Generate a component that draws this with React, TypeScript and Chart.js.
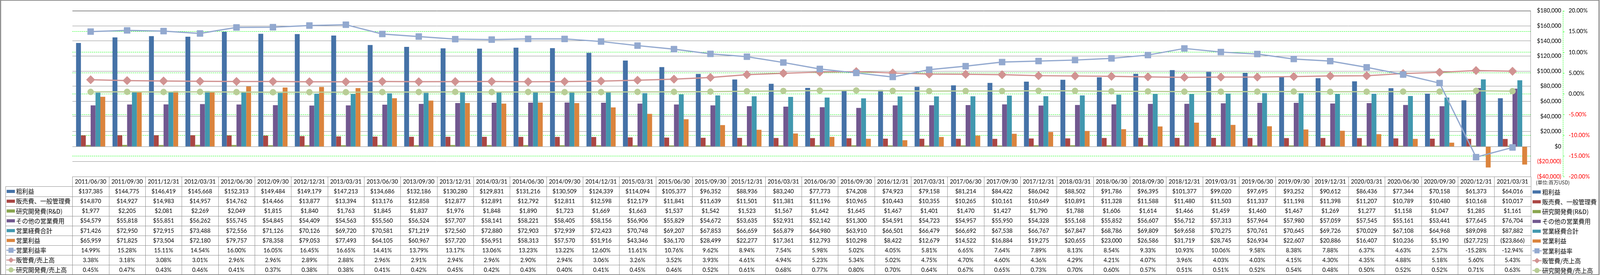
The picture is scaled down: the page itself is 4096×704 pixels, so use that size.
import React, { useEffect, useRef } from 'react';
import { Chart, registerables } from 'chart.js';

Chart.register(...registerables);

// ---------------- data ----------------
const categories = [
  '2011/06/30', '2011/09/30', '2011/12/31', '2012/03/31', '2012/06/30', '2012/09/30', '2012/12/31', '2013/03/31',
  '2013/06/30', '2013/09/30', '2013/12/31', '2014/03/31', '2014/06/30', '2014/09/30', '2014/12/31', '2015/03/31',
  '2015/06/30', '2015/09/30', '2015/12/31', '2016/03/31', '2016/06/30', '2016/09/30', '2016/12/31', '2017/03/31',
  '2017/06/30', '2017/09/30', '2017/12/31', '2018/03/31', '2018/06/30', '2018/09/30', '2018/12/31', '2019/03/31',
  '2019/06/30', '2019/09/30', '2019/12/31', '2020/03/31', '2020/06/30', '2020/09/30', '2020/12/31', '2021/03/31',
];

const grossProfit = [
  137385, 144775, 146419, 145668, 152313, 149484, 149179, 147213, 134686, 132186, 130280, 129831, 131216, 130509,
  124339, 114094, 105377, 96352, 88936, 83240, 77773, 74208, 74923, 79158, 81214, 84422, 86042, 88502, 91786, 96395,
  101377, 99020, 97695, 93252, 90612, 86436, 77344, 70158, 61373, 64016,
];
const sgaExpense = [
  14870, 14927, 14983, 14957, 14762, 14466, 13877, 13394, 13176, 12858, 12877, 12891, 12792, 12811, 12598, 12179,
  11841, 11639, 11501, 11381, 11196, 10965, 10443, 10355, 10265, 10161, 10649, 10891, 11328, 11588, 11480, 11503,
  11337, 11198, 11398, 11207, 10789, 10480, 10168, 10017,
];
const rndExpense = [
  1977, 2205, 2081, 2269, 2049, 1815, 1840, 1763, 1845, 1837, 1976, 1848, 1890, 1723, 1669, 1663, 1537, 1542, 1523,
  1567, 1642, 1645, 1467, 1401, 1470, 1427, 1790, 1788, 1606, 1614, 1466, 1459, 1460, 1467, 1269, 1277, 1158, 1047,
  1285, 1161,
];
const otherOpex = [
  54579, 55818, 55851, 56262, 55745, 54845, 54409, 54563, 55560, 56524, 57707, 58141, 58221, 58405, 58156, 56906,
  55829, 54672, 53635, 52931, 52142, 51300, 54591, 54723, 54957, 55950, 54328, 55168, 55852, 56607, 56712, 57313,
  57964, 57980, 57059, 57545, 55161, 53441, 77645, 76704,
];
const totalOpex = [
  71426, 72950, 72915, 73488, 72556, 71126, 70126, 69720, 70581, 71219, 72560, 72880, 72903, 72939, 72423, 70748,
  69207, 67853, 66659, 65879, 64980, 63910, 66501, 66479, 66692, 67538, 66767, 67847, 68786, 69809, 69658, 70275,
  70761, 70645, 69726, 70029, 67108, 64968, 89098, 87882,
];
const operatingIncome = [
  65959, 71825, 73504, 72180, 79757, 78358, 79053, 77493, 64105, 60967, 57720, 56951, 58313, 57570, 51916, 43346,
  36170, 28499, 22277, 17361, 12793, 10298, 8422, 12679, 14522, 16884, 19275, 20655, 23000, 26586, 31719, 28745,
  26934, 22607, 20886, 16407, 10236, 5190, -27725, -23866,
];
const operatingMargin = [
  14.99, 15.28, 15.11, 14.54, 16.0, 16.05, 16.45, 16.65, 14.41, 13.79, 13.17, 13.06, 13.23, 13.22, 12.6, 11.61, 10.76,
  9.62, 8.94, 7.54, 5.98, 5.02, 4.05, 5.81, 6.65, 7.64, 7.89, 8.13, 8.54, 9.33, 10.93, 10.06, 9.58, 8.38, 7.88, 6.37,
  4.63, 2.57, -15.28, -12.94,
];
const sgaRatio = [
  3.38, 3.18, 3.08, 3.01, 2.96, 2.96, 2.89, 2.88, 2.96, 2.91, 2.94, 2.96, 2.9, 2.94, 3.06, 3.26, 3.52, 3.93, 4.61, 4.94,
  5.23, 5.34, 5.02, 4.75, 4.7, 4.6, 4.36, 4.29, 4.21, 4.07, 3.96, 4.03, 4.03, 4.15, 4.3, 4.35, 4.88, 5.18, 5.6, 5.43,
];
const rndRatio = [
  0.45, 0.47, 0.43, 0.46, 0.41, 0.37, 0.38, 0.38, 0.41, 0.42, 0.45, 0.42, 0.43, 0.4, 0.41, 0.45, 0.46, 0.52, 0.61, 0.68,
  0.77, 0.8, 0.7, 0.64, 0.67, 0.65, 0.73, 0.7, 0.6, 0.57, 0.51, 0.51, 0.52, 0.54, 0.48, 0.5, 0.52, 0.52, 0.71, 0.63,
];

const seriesNames = [
  '粗利益', '販売費、一般管理費', '研究開発費(R&D)', 'その他の営業費用', '営業経費合計', '営業利益',
  '営業利益率', '販管費/売上高', '研究開発費/売上高',
];
const unitLabel = '(単位:百万USD)';

const moneyMin = -40000;
const moneyMax = 180000;
const moneyStep = 20000;
const pctMin = -20;
const pctMax = 20;
const pctStep = 5;

// ---------------- styles ----------------
const S = 0.6575;
const W = 4096;
const H = 704;
const LATIN = 'Lato, "Liberation Sans", sans-serif';
const CJK = '"Noto Sans CJK JP", sans-serif';
const colors = ['#4572A7', '#AA4643', '#89A54E', '#71588F', '#4198AF', '#DB843D', '#93A9CF', '#D19392', '#B9CD96'];
const GRID_GRAY = '#8C8C8C';

const fmtMoney = (v: number) =>
  v < 0 ? `($${Math.abs(v).toLocaleString('en-US')})` : `$${v.toLocaleString('en-US')}`;
const fmtPct = (v: number) => `${v.toFixed(2)}%`;

const moneyRows = [grossProfit, sgaExpense, rndExpense, otherOpex, totalOpex, operatingIncome];
const pctRows = [operatingMargin, sgaRatio, rndRatio];

function drawKey(ctx: CanvasRenderingContext2D, i: number, x0: number, yc: number) {
  const c = colors[i];
  if (i < 6) {
    ctx.fillStyle = c;
    ctx.fillRect(x0 + 0.5, yc - 4, 21, 8);
    return;
  }
  ctx.strokeStyle = c;
  ctx.lineWidth = 2.6;
  ctx.beginPath();
  ctx.moveTo(x0, yc);
  ctx.lineTo(x0 + 23.5, yc);
  ctx.stroke();
  const cx = x0 + 11.8;
  ctx.fillStyle = c;
  ctx.beginPath();
  if (i === 6) {
    ctx.rect(cx - 6.5, yc - 6.5, 13, 13);
  } else if (i === 7) {
    ctx.moveTo(cx - 7.5, yc);
    ctx.lineTo(cx, yc - 7);
    ctx.lineTo(cx + 7.5, yc);
    ctx.lineTo(cx, yc + 7);
    ctx.closePath();
  } else {
    ctx.arc(cx, yc, 6.6, 0, Math.PI * 2);
  }
  ctx.fill();
}

const tablePlugin = {
  id: 'dataTable',
  afterDraw(chart: any) {
    const ctx: CanvasRenderingContext2D = chart.ctx;
    const ca = chart.chartArea;
    const n = categories.length;
    const colW = (ca.right - ca.left) / n;
    const top = ca.bottom;
    const headerH = 38 * S;
    const rowH = 38.2 * S;
    const legendLeft = 21.7 * S;
    const bottom = top + headerH + 9 * rowH;
    ctx.save();

    // top gray line of the plot
    ctx.strokeStyle = GRID_GRAY;
    ctx.lineWidth = 1;
    ctx.setLineDash([]);
    ctx.beginPath();
    ctx.moveTo(ca.left, Math.round(ca.top) + 0.5);
    ctx.lineTo(ca.right, Math.round(ca.top) + 0.5);
    ctx.stroke();

    // right axis dashed green line + ticks
    const y1 = chart.scales.y1;
    const ax = Math.round(chart.scales.y.right + 4.3) + 0.5;
    ctx.strokeStyle = '#00FF00';
    ctx.setLineDash([3, 2]);
    ctx.beginPath();
    ctx.moveTo(ax, ca.top);
    ctx.lineTo(ax, ca.bottom);
    ctx.stroke();
    ctx.setLineDash([]);
    for (let v = pctMin; v <= pctMax; v += pctStep) {
      const py = Math.round(y1.getPixelForValue(v)) + 0.5;
      ctx.beginPath();
      ctx.moveTo(ax, py);
      ctx.lineTo(ax + 3.5, py);
      ctx.stroke();
    }

    // table grid
    ctx.strokeStyle = GRID_GRAY;
    ctx.lineWidth = 1;
    const hl = (x1: number, x2: number, y: number) => {
      const yy = Math.round(y) + 0.5;
      ctx.beginPath();
      ctx.moveTo(x1, yy);
      ctx.lineTo(x2, yy);
      ctx.stroke();
    };
    const vl = (x: number, y1a: number, y2: number) => {
      const xx = Math.round(x) + 0.5;
      ctx.beginPath();
      ctx.moveTo(xx, y1a);
      ctx.lineTo(xx, y2);
      ctx.stroke();
    };
    hl(ca.left, ca.right, top);
    for (let r = 0; r <= 9; r++) hl(legendLeft, ca.right, top + headerH + r * rowH);
    vl(legendLeft, top + headerH, bottom);
    for (let i = 0; i <= n; i++) vl(ca.left + i * colW, top, bottom);

    // header texts
    ctx.fillStyle = '#000';
    ctx.textAlign = 'center';
    ctx.textBaseline = 'middle';
    ctx.font = `14.5px ${LATIN}`;
    for (let i = 0; i < n; i++) {
      ctx.fillText(categories[i], ca.left + (i + 0.5) * colW, top + headerH / 2 + 0.5);
    }
    // value texts
    for (let r = 0; r < 9; r++) {
      const yc = top + headerH + (r + 0.5) * rowH + 0.5;
      for (let i = 0; i < n; i++) {
        const txt = r < 6 ? fmtMoney(moneyRows[r][i]) : fmtPct(pctRows[r - 6][i]);
        ctx.fillText(txt, ca.left + (i + 0.5) * colW, yc);
      }
    }

    // left legend cells
    ctx.textAlign = 'left';
    ctx.font = `15.5px ${CJK}`;
    for (let r = 0; r < 9; r++) {
      const yc = top + headerH + (r + 0.5) * rowH;
      drawKey(ctx, r, r < 6 ? 16.6 : 16.4, yc);
      ctx.fillStyle = '#000';
      ctx.fillText(seriesNames[r], 41, yc + 0.5);
    }

    // right legend
    const rx = ca.right + 4.2;
    for (let r = 0; r < 9; r++) {
      const yc = top + headerH + (r + 0.5) * rowH + 1.5;
      drawKey(ctx, r, rx, yc);
      ctx.fillStyle = '#000';
      ctx.fillText(seriesNames[r], rx + 25, yc + 0.5);
    }
    ctx.font = `12.5px ${CJK}`;
    ctx.fillStyle = '#222';
    ctx.fillText(unitLabel, ca.right + 13, top + headerH / 2 + 2);

    // outer border
    ctx.strokeStyle = '#868686';
    ctx.strokeRect(1.5, 0.5, W - 4, H - 1);
    ctx.restore();
  },
};

export default function App() {
  const ref = useRef<HTMLCanvasElement | null>(null);

  useEffect(() => {
    if (!ref.current) return;
    const barSeries = [grossProfit, sgaExpense, rndExpense, otherOpex, totalOpex, operatingIncome];
    const lineSeries = [operatingMargin, sgaRatio, rndRatio];
    const pointStyles = ['rect', 'rectRot', 'circle'];
    const pointRadii = [11, 11, 7.8];

    const datasets: any[] = [
      ...barSeries.map((d, i) => ({
        type: 'bar',
        label: seriesNames[i],
        data: d,
        backgroundColor: colors[i],
        borderWidth: 0,
        yAxisID: 'y',
        categoryPercentage: 0.8,
        barPercentage: 1.0,
        order: 1,
      })),
      ...lineSeries.map((d, i) => ({
        type: 'line',
        label: seriesNames[6 + i],
        data: d,
        borderColor: colors[6 + i],
        backgroundColor: colors[6 + i],
        pointBackgroundColor: colors[6 + i],
        pointBorderColor: colors[6 + i],
        pointBorderWidth: 1,
        pointStyle: pointStyles[i],
        pointRadius: pointRadii[i],
        borderWidth: 3.2,
        tension: 0,
        fill: false,
        yAxisID: 'y1',
        order: 0,
      })),
    ];

    const chart = new Chart(ref.current, {
      type: 'bar',
      data: { labels: categories, datasets },
      options: {
        responsive: false,
        maintainAspectRatio: false,
        animation: false,
        devicePixelRatio: 1,
        font: { family: LATIN },
        layout: { padding: { left: 185.4, top: 10.1, right: 14.3, bottom: H - 452.4 } },
        plugins: {
          legend: { display: false },
          tooltip: { enabled: false },
          title: { display: false },
        },
        scales: {
          x: { display: false, offset: true },
          y: {
            position: 'right',
            min: moneyMin,
            max: moneyMax,
            ticks: {
              stepSize: moneyStep,
              crossAlign: 'far',
              font: { family: LATIN, size: 14.5 },
              color: (c: any) => (c.tick && c.tick.value < 0 ? '#FF0000' : '#000000'),
              callback: (v: any) => fmtMoney(Number(v)),
            },
            grid: { color: GRID_GRAY, lineWidth: 1, drawTicks: false },
            border: { display: true, color: GRID_GRAY, width: 1 },
            afterFit: (s: any) => {
              s.width = 78;
            },
          },
          y1: {
            position: 'right',
            min: pctMin,
            max: pctMax,
            ticks: {
              stepSize: pctStep,
              padding: 19,
              font: { family: LATIN, size: 14.5 },
              color: (c: any) => (c.tick && c.tick.value < 0 ? '#FF0000' : '#000000'),
              callback: (v: any) => fmtPct(Number(v)),
            },
            grid: {
              color: (c: any) =>
                c.tick && (c.tick.value === pctMax || c.tick.value === pctMin) ? 'rgba(0,0,0,0)' : '#00FF00',
              lineWidth: 1,
              drawTicks: false,
            },
            border: { display: false, dash: [3, 2] },
            afterFit: (s: any) => {
              s.width = 85;
            },
          },
        },
      } as any,
      plugins: [tablePlugin],
    });
    return () => chart.destroy();
  }, []);

  return (
    <div style={{ position: 'fixed', left: 0, top: 0, width: W, height: H, background: '#fff' }}>
      <canvas ref={ref} width={W} height={H} style={{ display: 'block', width: W, height: H }} />
    </div>
  );
}
